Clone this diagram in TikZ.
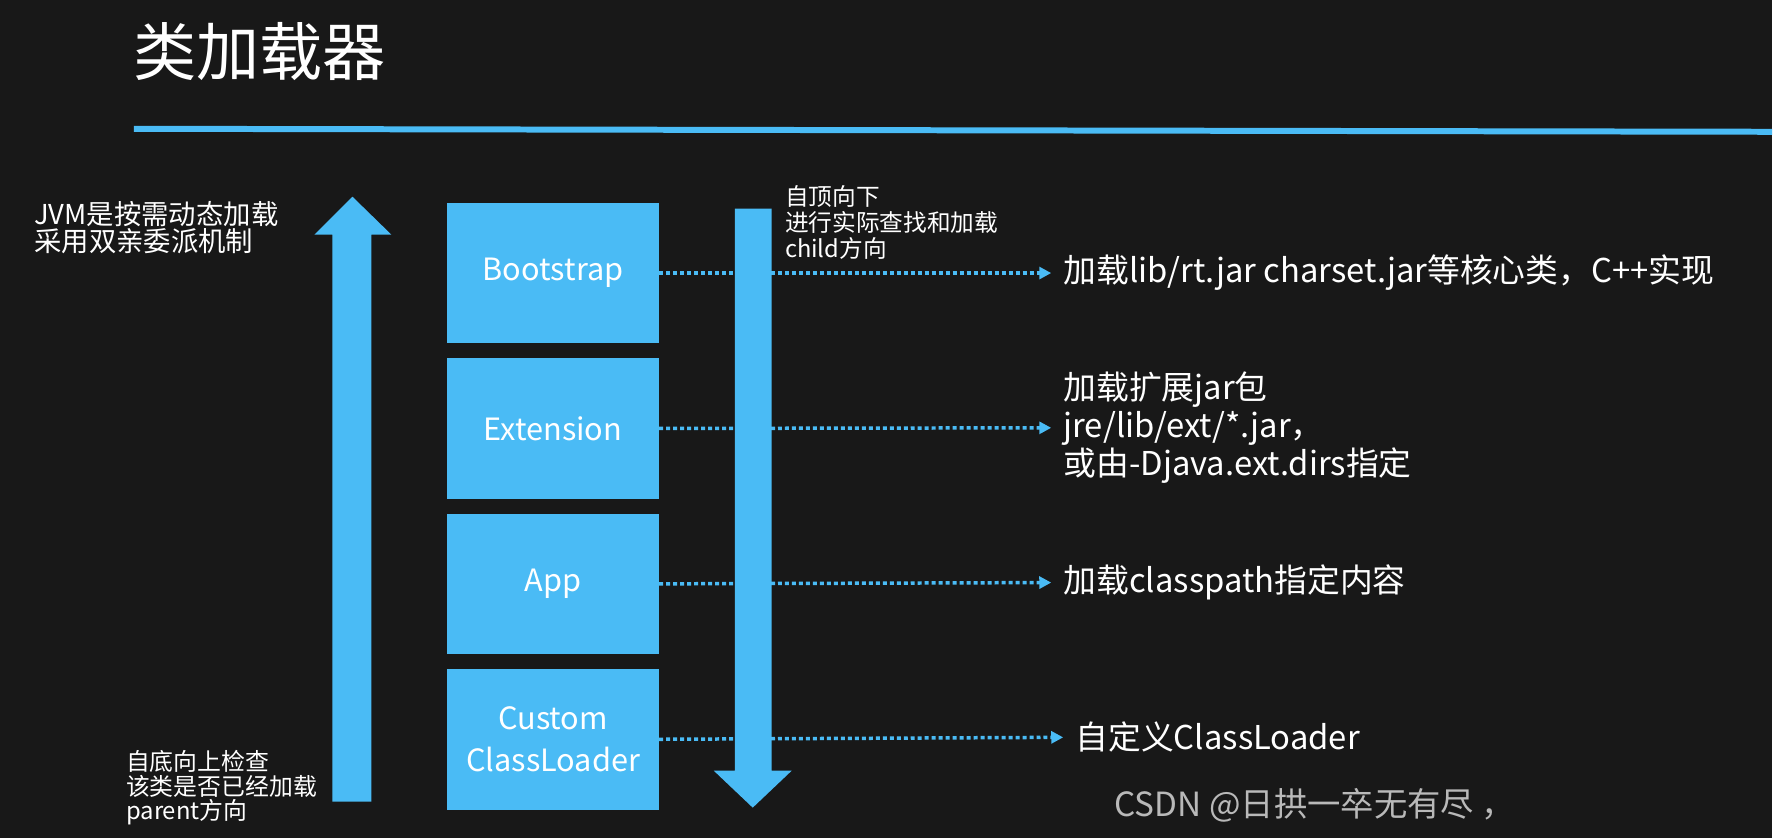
\documentclass[tikz,border=0pt]{standalone}
\usepackage{fontspec}
\setmainfont{Noto Sans CJK SC}
\usetikzlibrary{arrows.meta,positioning}
\definecolor{board}{RGB}{24,24,24}
\definecolor{skyblue}{RGB}{74,187,245}
\definecolor{markgray}{RGB}{185,185,185}
\newcommand{\fsz}[2]{\fontsize{#1}{#2}\selectfont}

\begin{document}
\begin{tikzpicture}[x=0.02cm,y=-0.02cm,
  every node/.style={text=white,inner sep=0pt},
  loader/.style={fill=skyblue,minimum width=4.24cm,minimum height=2.82cm,align=center,font=\fsz{17.5}{24}},
  desc/.style={anchor=west,align=left,font=\fsz{18.7}{21.5}},
  note/.style={anchor=west,align=left,font=\fsz{13.5}{14.7}},
  dotlink/.style={skyblue,line width=0.07cm,dash pattern=on 0.08cm off 0.06cm,-{Triangle[length=0.24cm,width=0.24cm]},shorten >=0.24cm}]
\fill[board] (0,0) rectangle (1775,839);
\node[anchor=west,font=\fsz{36}{40}] (title) at (133,52) {类加载器};
\draw[skyblue,line width=0.12cm] (134,129) -- (1775,132);
% loaders, top to bottom
\node[loader] (boot) at (554,273.5) {Bootstrap};
\node[loader,below=0.28cm of boot] (ext) {Extension};
\node[loader,below=0.28cm of ext] (app) {App};
\node[loader,below=0.28cm of app] (custom) {Custom\\ClassLoader};
\node[desc] (bootd) at (1065,273.5) {加载lib/rt.jar charset.jar等核心类，C++实现};
\node[desc] (extd) at (1065,428.5) {加载扩展jar包\\jre/lib/ext/*.jar，\\或由-Djava.ext.dirs指定};
\node[desc] (appd) at (1065,583.5) {加载classpath指定内容};
\node[desc] (custd) at (1077,738.5) {自定义ClassLoader};
\draw[dotlink] (boot.east) -- (bootd.west);
\draw[dotlink] (ext.east) -- (extd.west);
\draw[dotlink] (app.east) -- (appd.west);
\draw[dotlink] (custom.east) -- (custd.west);
% big arrows
\fill[skyblue] (333,803) -- (333,235) -- (315,235) -- (353,197) -- (392,235) -- (372,235) -- (372,803) -- cycle;
\fill[skyblue] (736,209) -- (773,209) -- (773,772) -- (793,772) -- (754,809) -- (715,772) -- (736,772) -- cycle;
\node[note,font=\fsz{15.6}{15.8}] (jvm) at (34,228) {JVM是按需动态加载\\采用双亲委派机制};
\node[note] (topdown) at (786,223) {自顶向下\\进行实际查找和加载\\child方向};
\node[note,font=\fsz{13.6}{13.8}] (bottomup) at (126,789) {自底向上检查\\该类是否已经加载\\parent方向};
\node[anchor=west,text=markgray,font=\fsz{19}{22}] (mark) at (1116,807) {CSDN @日拱一卒无有尽 ，};
\end{tikzpicture}
\end{document}
